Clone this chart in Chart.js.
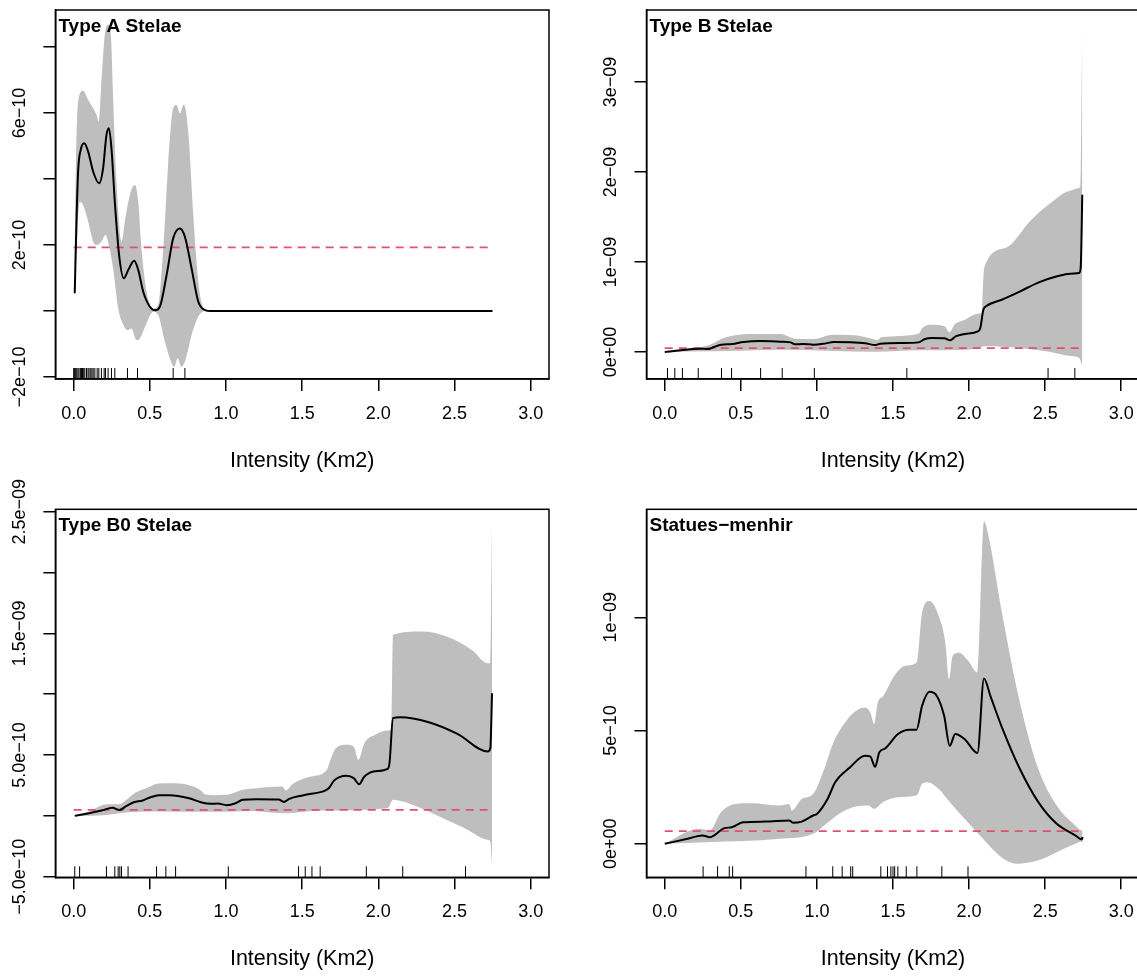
<!DOCTYPE html>
<html>
<head>
<meta charset="utf-8">
<script src="https://cdn.jsdelivr.net/npm/chart.js@4.4.1/dist/chart.umd.min.js"></script>
<style>
  html, body { margin: 0; padding: 0; background: #fff; overflow: hidden; }
  body { width: 1137px; height: 977px; position: relative; }
  canvas { position: absolute; }
</style>
</head>
<body>
<canvas id="typeA" width="560" height="490" style="left:0;top:0"></canvas>
<canvas id="typeB" width="600" height="490" style="left:560px;top:0"></canvas>
<canvas id="typeB0" width="560" height="537" style="left:0;top:440px"></canvas>
<canvas id="statues" width="600" height="537" style="left:560px;top:440px"></canvas>
<script>
  'use strict';

  var FONT = '"Liberation Sans", Arial, Helvetica, sans-serif';

  // x axis (shared)
  var xTicks      = [0, 0.5, 1, 1.5, 2, 2.5, 3];
  var xTickLabels = ['0.0', '0.5', '1.0', '1.5', '2.0', '2.5', '3.0'];
  var xTitle      = 'Intensity (Km2)';

  // intensity values below are in units of 1e-9

  // Type A Stelae
  var aEst = [[0.007,0.054],[0.02,0.3],[0.03,0.43],[0.047,0.49],[0.069,0.508],[0.095,0.483],[0.128,0.422],
    [0.167,0.387],[0.193,0.432],[0.215,0.533],[0.231,0.554],[0.248,0.493],[0.27,0.331],[0.298,0.17],
    [0.329,0.099],[0.358,0.124],[0.397,0.152],[0.424,0.124],[0.456,0.059],[0.5,0.013],[0.535,0.002],
    [0.566,0.013],[0.61,0.109],[0.653,0.22],[0.697,0.25],[0.73,0.225],[0.774,0.129],[0.818,0.028],
    [0.862,0.003],[0.9,0],[2.749,0]];
  var aUpper = [[0.003,0.045],[0.015,0.45],[0.029,0.634],[0.062,0.667],[0.095,0.639],[0.128,0.614],[0.15,0.594],
    [0.165,0.574],[0.182,0.695],[0.204,0.836],[0.226,0.867],[0.244,0.836],[0.259,0.644],[0.281,0.392],
    [0.314,0.21],[0.336,0.271],[0.369,0.352],[0.402,0.382],[0.424,0.331],[0.445,0.19],[0.478,0.059],
    [0.522,0.008],[0.555,0.018],[0.588,0.19],[0.62,0.442],[0.653,0.614],[0.675,0.624],[0.697,0.599],
    [0.723,0.626],[0.752,0.543],[0.785,0.291],[0.818,0.089],[0.851,0.008],[0.873,0],[2.749,0]];
  var aLower = [[0.003,0.038],[0.025,0.25],[0.04,0.331],[0.062,0.321],[0.095,0.271],[0.128,0.21],[0.15,0.2],
    [0.182,0.21],[0.209,0.23],[0.226,0.21],[0.259,0.129],[0.292,0.008],[0.325,-0.042],[0.353,-0.058],
    [0.379,-0.053],[0.412,-0.088],[0.434,-0.083],[0.478,-0.037],[0.522,-0.002],[0.555,-0.012],
    [0.599,-0.093],[0.631,-0.143],[0.66,-0.169],[0.682,-0.143],[0.708,-0.169],[0.737,-0.143],
    [0.774,-0.073],[0.818,-0.017],[0.862,0],[2.749,0]];
  var aRef = [[0,0.193],[2.749,0.193]];
  var aRug = [0.0,0.006,0.013,0.02,0.028,0.035,0.044,0.051,0.058,0.066,0.073,0.084,0.094,0.101,0.112,0.12,
    0.128,0.139,0.154,0.165,0.182,0.2,0.209,0.226,0.248,0.27,0.353,0.419,0.653,0.73];
  var aYTicks  = [-2e-10, 0, 2e-10, 4e-10, 6e-10, 8e-10];
  var aYLabels = ['−2e−10', '', '2e−10', '', '6e−10', ''];

  // Type B Stelae
  var bEst = [[0,0],[0.104,0.019],[0.226,0.037],[0.286,0.033],[0.323,0.056],[0.371,0.081],[0.444,0.089],
    [0.517,0.111],[0.626,0.122],[0.759,0.115],[0.827,0.107],[0.856,0.085],[0.905,0.089],[0.978,0.081],
    [1.05,0.093],[1.111,0.111],[1.22,0.107],[1.317,0.096],[1.385,0.078],[1.414,0.093],[1.56,0.1],
    [1.669,0.107],[1.706,0.141],[1.754,0.156],[1.839,0.152],[1.875,0.13],[1.912,0.174],[1.972,0.2],
    [2.057,0.23],[2.074,0.267],[2.094,0.47],[2.118,0.515],[2.215,0.581],[2.336,0.674],[2.458,0.774],
    [2.579,0.841],[2.664,0.87],[2.724,0.878],[2.734,0.952],[2.744,1.748]];
  var bUpper = [[0,0],[0.153,0.033],[0.262,0.063],[0.323,0.1],[0.371,0.144],[0.444,0.181],[0.565,0.2],
    [0.759,0.2],[0.82,0.167],[0.856,0.148],[0.978,0.144],[1.099,0.193],[1.245,0.185],[1.366,0.144],
    [1.395,0.13],[1.427,0.167],[1.669,0.204],[1.693,0.267],[1.754,0.304],[1.839,0.285],[1.87,0.219],
    [1.904,0.304],[1.972,0.359],[2.057,0.426],[2.082,0.433],[2.099,0.933],[2.239,1.156],[2.409,1.47],
    [2.555,1.681],[2.652,1.785],[2.724,1.822],[2.732,1.859],[2.744,3.656]];
  var bLower = [[0,0],[0.323,0.007],[0.759,0.026],[1.39,0.004],[1.669,0.019],[1.972,0.026],[2.07,0.044],
    [2.094,0.063],[2.336,0.044],[2.506,0.007],[2.652,-0.041],[2.724,-0.067],[2.744,-0.159]];
  var bRef = [[0,0.044],[2.744,0.044]];
  var bRug = [0.018,0.066,0.116,0.22,0.373,0.439,0.63,0.772,0.983,1.591,2.519,2.695];
  var bYTicks  = [0, 1e-9, 2e-9, 3e-9];
  var bYLabels = ['0e+00', '1e−09', '2e−09', '3e−09'];

  // Type B0 Stelae
  var b0Est = [[0.007,0],[0.101,0.022],[0.183,0.044],[0.254,0.066],[0.3,0.049],[0.347,0.082],[0.394,0.112],
    [0.453,0.126],[0.5,0.151],[0.559,0.17],[0.629,0.17],[0.758,0.145],[0.84,0.11],[0.899,0.099],
    [0.946,0.101],[1.005,0.088],[1.063,0.104],[1.11,0.132],[1.204,0.137],[1.345,0.134],[1.38,0.115],
    [1.415,0.14],[1.509,0.17],[1.65,0.208],[1.674,0.227],[1.709,0.29],[1.744,0.318],[1.791,0.329],
    [1.838,0.31],[1.873,0.26],[1.908,0.323],[1.979,0.367],[2.061,0.386],[2.073,0.433],[2.096,0.803],
    [2.143,0.811],[2.331,0.77],[2.519,0.674],[2.718,0.529],[2.735,0.556],[2.746,1.008]];
  var b0Upper = [[0.007,0],[0.101,0.036],[0.218,0.096],[0.3,0.096],[0.359,0.145],[0.406,0.192],[0.477,0.227],
    [0.547,0.263],[0.617,0.268],[0.711,0.263],[0.829,0.214],[0.864,0.175],[0.923,0.17],[1.005,0.173],
    [1.11,0.214],[1.204,0.227],[1.369,0.241],[1.392,0.208],[1.439,0.263],[1.556,0.323],[1.662,0.378],
    [1.678,0.433],[1.721,0.556],[1.791,0.584],[1.838,0.57],[1.869,0.46],[1.908,0.597],[1.979,0.666],
    [2.061,0.701],[2.085,0.707],[2.096,1.488],[2.284,1.515],[2.448,1.474],[2.613,1.364],[2.718,1.255],
    [2.735,1.255],[2.746,2.405]];
  var b0Lower = [[0.007,0],[0.218,0.008],[0.336,0.027],[0.523,0.036],[0.923,0.033],[1.157,0.041],[1.392,0.022],
    [1.627,0.044],[2.061,0.063],[2.096,0.132],[2.214,0.096],[2.331,0.036],[2.448,-0.033],[2.566,-0.101],
    [2.718,-0.197],[2.735,-0.211],[2.746,-0.403]];
  var b0Ref = [[0,0.049],[2.746,0.049]];
  var b0Rug = [0.007,0.039,0.215,0.27,0.292,0.303,0.314,0.357,0.544,0.605,0.669,1.015,1.476,1.52,1.564,
    1.618,1.921,2.16,2.572];
  var b0YTicks  = [-5e-10, 0, 5e-10, 1e-9, 1.5e-9, 2e-9, 2.5e-9];
  var b0YLabels = ['−5.0e−10', '', '5.0e−10', '', '1.5e−09', '', '2.5e−09'];

  // Statues-menhir
  var sEst = [[0,0],[0.15,0.022],[0.247,0.037],[0.296,0.029],[0.393,0.069],[0.44,0.073],[0.514,0.095],
    [0.66,0.098],[0.818,0.103],[0.842,0.093],[0.9,0.098],[0.975,0.125],[1.0,0.132],[1.07,0.198],
    [1.12,0.272],[1.218,0.338],[1.315,0.389],[1.35,0.386],[1.383,0.34],[1.41,0.404],[1.448,0.421],
    [1.533,0.485],[1.606,0.504],[1.655,0.504],[1.691,0.609],[1.74,0.671],[1.788,0.653],[1.836,0.565],
    [1.873,0.433],[1.909,0.485],[1.97,0.463],[2.055,0.401],[2.098,0.73],[2.14,0.653],[2.212,0.521],
    [2.334,0.33],[2.455,0.184],[2.576,0.088],[2.698,0.037],[2.741,0.019],[2.746,0.03]];
  var sUpper = [[0,0],[0.223,0.066],[0.296,0.059],[0.369,0.139],[0.466,0.176],[0.575,0.179],[0.757,0.169],
    [0.818,0.176],[0.835,0.147],[0.9,0.198],[0.975,0.22],[1.048,0.33],[1.109,0.448],[1.17,0.521],
    [1.242,0.58],[1.315,0.602],[1.351,0.58],[1.376,0.529],[1.4,0.624],[1.436,0.653],[1.509,0.742],
    [1.582,0.786],[1.655,0.8],[1.691,1.02],[1.74,1.072],[1.8,1.006],[1.844,0.888],[1.868,0.727],
    [1.892,0.83],[1.934,0.844],[1.994,0.808],[2.055,0.756],[2.098,1.424],[2.128,1.358],[2.212,1.035],
    [2.334,0.624],[2.455,0.33],[2.576,0.169],[2.698,0.081],[2.741,0.059],[2.746,0.066]];
  var sLower = [[0,0],[0.272,0.007],[0.757,0.022],[0.975,0.044],[1.048,0.081],[1.145,0.132],[1.242,0.162],
    [1.339,0.169],[1.376,0.154],[1.436,0.184],[1.533,0.206],[1.655,0.213],[1.691,0.264],[1.727,0.272],
    [1.8,0.242],[1.873,0.184],[1.97,0.11],[2.091,0.022],[2.212,-0.059],[2.31,-0.088],[2.455,-0.073],
    [2.576,-0.037],[2.698,0],[2.741,0.01],[2.746,-0.015]];
  var sRef = [[0,0.056],[2.746,0.056]];
  var sRug = [0.252,0.347,0.424,0.446,0.928,1.104,1.166,1.222,1.235,1.42,1.464,1.486,1.5,1.511,1.532,
    1.587,1.657,1.821,1.993];
  var sYTicks  = [0, 5e-10, 1e-9];
  var sYLabels = ['0e+00', '5e−10', '1e−09'];

  function pts(arr) {
    return arr.map(function(p) { return {x: p[0], y: p[1] * 1e-9}; });
  }

  function widest(labels) {
    var c = document.createElement('canvas').getContext('2d');
    c.font = '18px ' + FONT;
    return Math.max.apply(null, labels.map(function(s) { return c.measureText(s).width; }));
  }

  // rug, box and panel title
  var panelDeco = {
    id: 'panelDeco',
    afterDatasetsDraw: function(chart, args, opts) {
      var ctx = chart.ctx, area = chart.chartArea, xs = chart.scales.x;
      ctx.save();
      ctx.strokeStyle = '#000';
      ctx.lineWidth = 1;
      ctx.beginPath();
      opts.rug.forEach(function(v) {
        var px = xs.getPixelForValue(v);
        ctx.moveTo(px, area.bottom);
        ctx.lineTo(px, area.bottom - 11);
      });
      ctx.stroke();
      ctx.lineWidth = 1.5;
      ctx.strokeRect(area.left, area.top, area.right - area.left, area.bottom - area.top);
      ctx.fillStyle = '#000';
      ctx.font = 'bold 19px ' + FONT;
      ctx.textBaseline = 'alphabetic';
      ctx.fillText(opts.title, area.left + 3, area.top + 22);
      ctx.restore();
    }
  };

  function makePanel(id, p) {
    var axisLine = { display: true, color: '#000', width: 1.5 };
    var tickMarks = { drawOnChartArea: false, drawTicks: true, tickLength: 12, color: '#000', lineWidth: 1.5 };
    return new Chart(document.getElementById(id), {
      type: 'line',
      data: {
        datasets: [
          { data: pts(p.est), borderColor: '#000', borderWidth: 2, pointRadius: 0,
            cubicInterpolationMode: 'monotone', fill: false, order: 0 },
          { data: pts(p.ref), borderColor: '#DF536B', borderWidth: 1.8, borderDash: [8, 6],
            pointRadius: 0, fill: false, order: 1 },
          { data: pts(p.upper), borderColor: 'rgba(0,0,0,0)', borderWidth: 0, backgroundColor: '#BEBEBE',
            pointRadius: 0, cubicInterpolationMode: 'monotone', fill: '+1', order: 2 },
          { data: pts(p.lower), borderColor: 'rgba(0,0,0,0)', borderWidth: 0, pointRadius: 0,
            cubicInterpolationMode: 'monotone', fill: false, order: 3 }
        ]
      },
      options: {
        responsive: false,
        devicePixelRatio: 1,
        animation: false,
        events: [],
        layout: { padding: { left: 0, top: p.padTop, right: p.padRight, bottom: 0 } },
        scales: {
          x: {
            type: 'linear', min: -0.12, max: 3.12, bounds: 'data',
            afterBuildTicks: function(s) { s.ticks = xTicks.map(function(v) { return {value: v}; }); },
            afterFit: function(s) { s.height = p.xHeight; },
            ticks: { autoSkip: false, maxRotation: 0, padding: 12, color: '#000',
              font: { size: 18, family: FONT },
              callback: function(v, i) { return xTickLabels[i]; } },
            grid: tickMarks,
            border: axisLine,
            title: { display: true, text: xTitle, color: '#000', font: { size: 21.5, family: FONT },
              padding: { top: 0, bottom: p.titlePad } }
          },
          y: {
            type: 'linear', min: p.yMin, max: p.yMax, bounds: 'data',
            afterBuildTicks: function(s) { s.ticks = p.yTicks.map(function(v) { return {value: v}; }); },
            afterFit: function(s) { s.width = p.yWidth; },
            ticks: { autoSkip: false, minRotation: 90, maxRotation: 90, crossAlign: 'center',
              padding: 35 - 12 - widest(p.yLabels) / 2, color: '#000',
              font: { size: 18, family: FONT },
              callback: function(v, i) { return p.yLabels[i]; } },
            grid: tickMarks,
            border: axisLine
          }
        },
        plugins: {
          legend: { display: false },
          tooltip: { enabled: false },
          panelDeco: { rug: p.rug, title: p.title }
        }
      },
      plugins: [panelDeco]
    });
  }

  makePanel('typeA', { title: 'Type A Stelae', est: aEst, upper: aUpper, lower: aLower, ref: aRef, rug: aRug,
    yTicks: aYTicks, yLabels: aYLabels, yMin: -2.06e-10, yMax: 9.12e-10,
    padTop: 10, padRight: 11, yWidth: 55.4, xHeight: 111, titlePad: 16.1 });

  makePanel('typeB', { title: 'Type B Stelae', est: bEst, upper: bUpper, lower: bLower, ref: bRef, rug: bRug,
    yTicks: bYTicks, yLabels: bYLabels, yMin: -0.3e-9, yMax: 3.8e-9,
    padTop: 10, padRight: 20.5, yWidth: 86.5, xHeight: 111, titlePad: 16.1 });

  makePanel('typeB0', { title: 'Type B0 Stelae', est: b0Est, upper: b0Upper, lower: b0Lower, ref: b0Ref, rug: b0Rug,
    yTicks: b0YTicks, yLabels: b0YLabels, yMin: -0.505e-9, yMax: 2.52e-9,
    padTop: 69.3, padRight: 11, yWidth: 55.4, xHeight: 99.7, titlePad: 4.8 });

  makePanel('statues', { title: 'Statues−menhir', est: sEst, upper: sUpper, lower: sLower, ref: sRef, rug: sRug,
    yTicks: sYTicks, yLabels: sYLabels, yMin: -0.148e-9, yMax: 1.477e-9,
    padTop: 69.3, padRight: 20.5, yWidth: 86.5, xHeight: 99.7, titlePad: 4.8 });
</script>
</body>
</html>
